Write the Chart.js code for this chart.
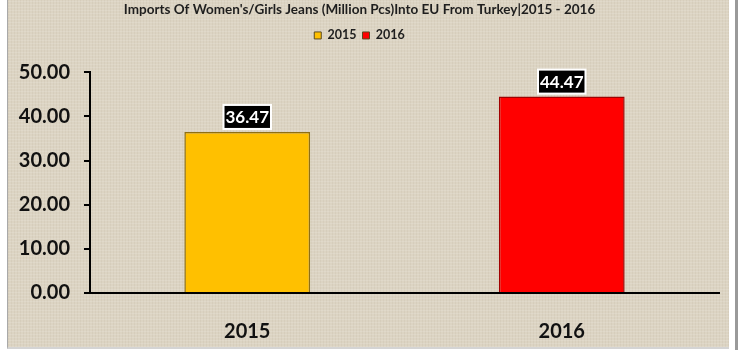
<!DOCTYPE html>
<html>
<head>
  <title>Imports Of Women's/Girls Jeans Into EU From Turkey</title>
  <meta charset="utf-8">
  <script src="https://cdn.jsdelivr.net/npm/chart.js@4.4.0/dist/chart.umd.min.js"></script>
  <style>
    body { margin: 0; background: #fff; }
    #wrap { position: relative; width: 740px; height: 350px; overflow: hidden; }
    /* linen panel behind the chart */
    #panel {
      position: absolute; left: 7px; top: 0; width: 721px; height: 347px;
      border-left: 1px solid #a9a9a9;
      border-bottom: 2px solid #d4d4d4;
      background-color: #dcd4c3;
      background-image:
        repeating-linear-gradient(0deg, rgba(255,255,255,0.12) 0 1px, rgba(0,0,0,0) 1px 3px),
        repeating-linear-gradient(90deg, rgba(120,100,70,0.06) 0 1px, rgba(0,0,0,0) 1px 3px);
    }
    #edge { position: absolute; left: 735px; top: 0; width: 3px; height: 350px; background: #9a9a9a; }
    #myChart { position: absolute; left: 0; top: 0; }
  </style>
</head>
<body>
<div id="wrap">
  <div id="panel"></div>
  <div id="edge"></div>
  <canvas id="myChart" width="740" height="350"></canvas>
</div>
<script>
  var years = ['2015', '2016'];
  var imports = [36.47, 44.47];
  var barColors = ['#ffc000', '#ff0000'];
  var barEdges = ['#8f6f12', '#a00000'];
  var yTicks = [0, 10, 20, 30, 40, 50];

  var FONT = 'Lato, "Open Sans", sans-serif';

  // black value tags sitting on top of each bar
  var valueTags = {
    id: 'valueTags',
    afterDatasetsDraw: function(chart) {
      var ctx = chart.ctx;
      var meta = chart.getDatasetMeta(0);
      ctx.save();
      ctx.font = 'bold 17px ' + FONT;
      meta.data.forEach(function(bar, i) {
        var txt = imports[i].toFixed(2);
        var w = ctx.measureText(txt).width + 4;
        var h = 24;
        var x = bar.x - w / 2;
        var y = bar.y - 3 - h;
        ctx.fillStyle = '#000';
        ctx.fillRect(x, y, w, h);
        ctx.strokeStyle = '#fff';
        ctx.lineWidth = 2;
        ctx.strokeRect(x, y, w, h);
        ctx.fillStyle = '#fff';
        ctx.textAlign = 'center';
        ctx.textBaseline = 'middle';
        ctx.fillText(txt, bar.x, y + h / 2 + 1);
      });
      ctx.restore();
    }
  };

  var ctx = document.getElementById('myChart').getContext('2d');
  var chart = new Chart(ctx, {
    type: 'bar',
    data: {
      labels: years,
      datasets: [{
        label: 'Imports',
        data: imports,
        backgroundColor: barColors,
        borderColor: barEdges,
        borderWidth: 1.5,
        categoryPercentage: 0.8,
        barPercentage: 0.5
      }]
    },
    options: {
      responsive: false,
      animation: false,
      devicePixelRatio: 1,
      layout: { padding: { left: 0, right: 21, top: 0, bottom: 0 } },
      plugins: {
        title: {
          display: true,
          text: "Imports Of Women's/Girls Jeans (Million Pcs)Into EU From Turkey|2015 - 2016",
          color: '#1e1e1e',
          font: { family: FONT, size: 13.5, weight: 'bold' },
          padding: { top: 2, bottom: 5 }
        },
        legend: {
          display: true,
          labels: {
            boxWidth: 7,
            boxHeight: 7,
            padding: 6,
            color: '#1e1e1e',
            font: { family: FONT, size: 12.5, weight: 'bold' },
            generateLabels: function() {
              return years.map(function(y, i) {
                return {
                  text: y,
                  fillStyle: barColors[i],
                  strokeStyle: '#5a4a20',
                  lineWidth: 1,
                  fontColor: '#1e1e1e',
                  index: i
                };
              });
            }
          },
          onClick: function() {}
        },
        tooltip: { enabled: false }
      },
      scales: {
        // empty strip that keeps the plot clear of the legend
        gap: {
          type: 'category',
          position: 'top',
          ticks: { display: false },
          grid: { display: false },
          border: { display: false },
          afterFit: function(s) { s.height = 20.5; }
        },
        x: {
          grid: { display: false },
          border: { display: true, color: '#000', width: 2 },
          ticks: {
            color: '#111',
            padding: 19,
            font: { family: FONT, size: 20, weight: 'bold' }
          },
          afterFit: function(s) { s.height = 57; }
        },
        y: {
          min: 0,
          max: 50,
          afterBuildTicks: function(s) {
            s.ticks = yTicks.map(function(v) { return { value: v }; });
          },
          grid: {
            drawOnChartArea: false,
            drawTicks: true,
            tickLength: 6,
            color: '#000',
            lineWidth: 2
          },
          border: { display: true, color: '#000', width: 2 },
          ticks: {
            color: '#111',
            padding: 14,
            font: { family: FONT, size: 20, weight: 'bold' },
            callback: function(v) { return Number(v).toFixed(2); }
          },
          afterFit: function(s) { s.width = 90; }
        }
      }
    },
    plugins: [valueTags]
  });
</script>
</body>
</html>
